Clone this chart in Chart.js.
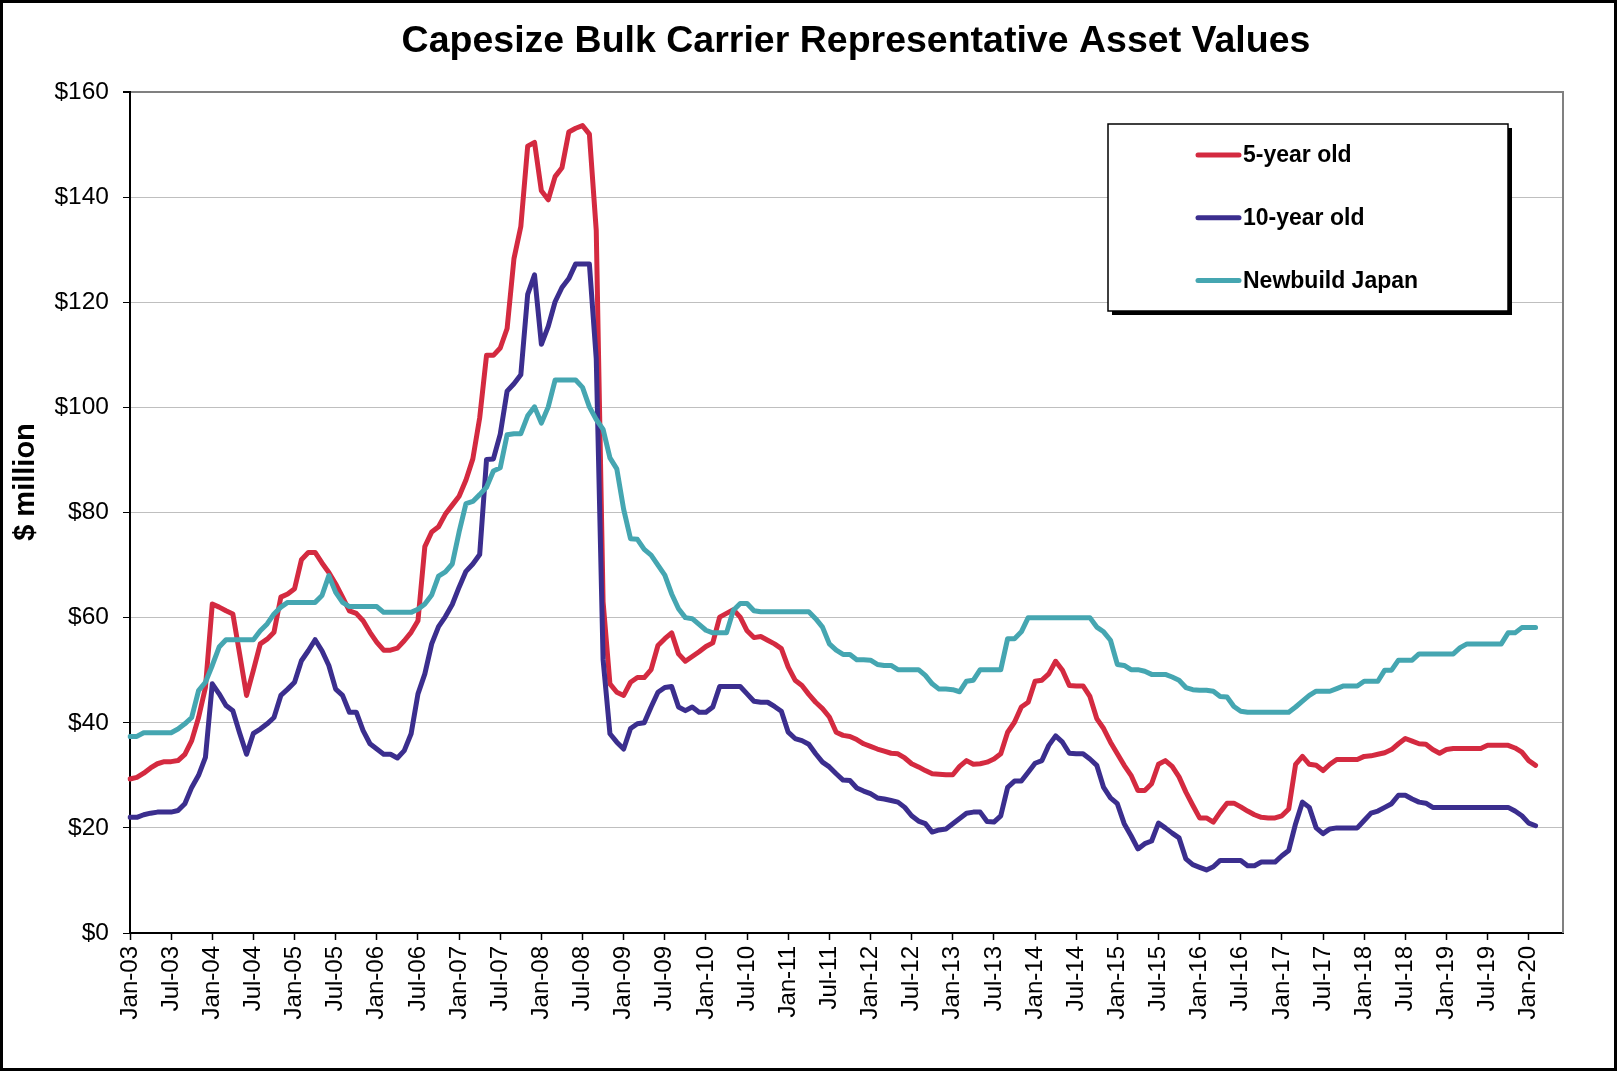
<!DOCTYPE html>
<html>
<head>
<meta charset="utf-8">
<script src="https://cdn.jsdelivr.net/npm/chart.js@4.4.1/dist/chart.umd.min.js"></script>
<style>
  html, body { margin: 0; padding: 0; background: #fff; }
  #wrap { position: relative; width: 1617px; height: 1071px; }
  #frame { position: absolute; left: 0; top: 0; width: 1617px; height: 1071px;
           box-sizing: border-box; border: 3px solid #000; pointer-events: none; }
</style>
</head>
<body>
<div id="wrap">
  <canvas id="chart" width="1617" height="1071"></canvas>
  <div id="frame"></div>
</div>
<script>
// monthly values, $ million, Jan-03 .. Feb-20 (one row per year)
const fiveYearOld = [
  29.3, 29.6, 30.4, 31.4, 32.2, 32.6, 32.6, 32.8, 34, 36.6, 41, 46.7,
  62.6, 62, 61.3, 60.7, 53, 45.2, 50, 55, 55.9, 57.2, 63.9, 64.5,
  65.5, 71, 72.4, 72.4, 70.4, 68.6, 66.4, 63.9, 61.3, 60.8, 59.4, 57.2,
  55.3, 53.8, 53.8, 54.2, 55.6, 57.2, 59.4, 73.5, 76.3, 77.3, 79.7, 81.4,
  83.1, 86.2, 90.2, 98, 109.9, 109.9, 111.3, 115, 128.3, 134.4, 149.7, 150.4,
  141.2, 139.5, 143.9, 145.6, 152.4, 153.1, 153.6, 152, 133.7, 63, 47.4, 45.8,
  45.2, 47.7, 48.6, 48.6, 50.1, 54.7, 56, 57.1, 53.1, 51.7, 52.6, 53.5,
  54.5, 55.2, 60.1, 60.8, 61.5, 60.1, 57.5, 56.2, 56.4, 55.7, 55, 54.1,
  50.6, 48.1, 47.1, 45.4, 43.9, 42.7, 41.1, 38.2, 37.6, 37.4, 36.8, 36,
  35.5, 35, 34.6, 34.2, 34.1, 33.3, 32.2, 31.6, 30.9, 30.3, 30.2, 30.1,
  30.1, 31.7, 32.8, 32.1, 32.2, 32.5, 33.1, 34.1, 38.2, 40.1, 43, 43.9,
  47.9, 48.1, 49.3, 51.7, 50, 47.1, 47, 47, 45, 40.8, 38.9, 36.3,
  34.1, 31.9, 30, 27.1, 27.1, 28.4, 32.1, 32.8, 31.7, 29.7, 26.8, 24.3,
  21.9, 21.9, 21.1, 23, 24.7, 24.7, 24, 23.2, 22.5, 22, 21.9, 21.9,
  22.3, 23.6, 32.1, 33.6, 32.1, 31.9, 30.9, 32.1, 33, 33, 33, 33,
  33.6, 33.7, 34, 34.3, 34.9, 36, 37, 36.5, 36, 35.9, 34.9, 34.2,
  34.9, 35.1, 35.1, 35.1, 35.1, 35.1, 35.7, 35.7, 35.7, 35.7, 35.2, 34.4,
  32.8, 31.9
];
const tenYearOld = [
  22, 22, 22.5, 22.8, 23, 23, 23, 23.3, 24.6, 27.7, 30, 33.4,
  47.4, 45.5, 43.3, 42.3, 38, 34, 38, 38.8, 39.8, 41, 45.2, 46.4,
  47.7, 51.8, 53.7, 55.8, 53.7, 50.9, 46.4, 45.2, 42, 42, 38.5, 36,
  35, 34, 34, 33.3, 34.7, 37.9, 45.5, 49.3, 55, 58.3, 60.2, 62.5,
  65.8, 68.8, 70.2, 72, 90.1, 90.2, 94.9, 103.1, 104.5, 106.2, 121.5, 125.2,
  112, 115.4, 120.1, 122.8, 124.5, 127.3, 127.3, 127.3, 109.3, 52, 37.9, 36.3,
  35, 38.9, 39.8, 40, 43, 45.8, 46.7, 46.9, 43, 42.3, 43, 42,
  42, 43, 46.9, 46.9, 46.9, 46.9, 45.5, 44.1, 43.9, 43.9, 43.1, 42.2,
  38.2, 37, 36.6, 35.9, 34.1, 32.5, 31.6, 30.3, 29.1, 29, 27.6, 27,
  26.5, 25.7, 25.5, 25.2, 24.9, 23.9, 22.3, 21.3, 20.8, 19.2, 19.6, 19.8,
  20.8, 21.8, 22.8, 23, 23, 21.2, 21.1, 22.3, 27.7, 28.9, 28.9, 30.6,
  32.3, 32.8, 35.7, 37.5, 36.3, 34.2, 34.1, 34.1, 33.1, 31.9, 27.7, 25.7,
  24.6, 20.8, 18.5, 16, 17, 17.5, 20.9, 20, 19, 18.1, 14.1, 13,
  12.5, 12, 12.6, 13.8, 13.8, 13.8, 13.8, 12.8, 12.8, 13.5, 13.5, 13.5,
  14.7, 15.7, 20.8, 24.9, 23.9, 20, 18.9, 19.8, 20, 20, 20, 20,
  21.4, 22.8, 23.2, 23.9, 24.6, 26.2, 26.2, 25.5, 24.9, 24.7, 23.9, 23.9,
  23.9, 23.9, 23.9, 23.9, 23.9, 23.9, 23.9, 23.9, 23.9, 23.9, 23.2, 22.3,
  20.9, 20.4
];
const newbuildJapan = [
  37.4, 37.4, 38.1, 38.1, 38.1, 38.1, 38.1, 38.8, 39.8, 41, 46.1, 47.7,
  50.9, 54.4, 55.8, 55.8, 55.8, 55.8, 55.8, 57.5, 58.8, 60.7, 62, 62.9,
  62.9, 62.9, 62.9, 62.9, 64.2, 68, 64.8, 62.9, 62.1, 62.1, 62.1, 62.1,
  62.1, 61, 61, 61, 61, 61, 61.6, 62.6, 64.3, 67.9, 68.7, 70.2,
  76.3, 81.7, 82.1, 83.4, 84.8, 87.9, 88.5, 94.8, 95, 95, 98.4, 100.1,
  97, 100.1, 105.2, 105.2, 105.2, 105.2, 103.8, 100.1, 97.7, 95.8, 90.4, 88.3,
  80.6, 75, 74.9, 73, 71.9, 70, 68.1, 64.5, 61.7, 60, 59.8, 58.7,
  57.6, 57.1, 57.1, 57.1, 61.4, 62.7, 62.7, 61.3, 61.1, 61.1, 61.1, 61.1,
  61.1, 61.1, 61.1, 61.1, 59.8, 58.2, 55, 53.8, 53, 53, 52, 52,
  51.9, 51.1, 50.9, 50.9, 50.1, 50.1, 50.1, 50.1, 49, 47.4, 46.4, 46.4,
  46.3, 45.9, 47.9, 48.1, 50.1, 50.1, 50.1, 50.1, 56, 56, 57.3, 60,
  60, 60, 60, 60, 60, 60, 60, 60, 60, 58.2, 57.3, 55.7,
  51.1, 50.9, 50.1, 50.1, 49.8, 49.2, 49.2, 49.2, 48.7, 48.1, 46.7, 46.3,
  46.2, 46.2, 46, 45, 44.9, 43.1, 42.2, 42, 42, 42, 42, 42,
  42, 42, 43, 44.1, 45.2, 46, 46, 46, 46.5, 47, 47, 47,
  47.9, 47.9, 47.9, 50, 50, 51.9, 51.9, 51.9, 53.1, 53.1, 53.1, 53.1,
  53.1, 53.1, 54.3, 55, 55, 55, 55, 55, 55, 57.1, 57.1, 58.1,
  58.1, 58.1
];

const seriesNames = ['5-year old', '10-year old', 'Newbuild Japan'];
const seriesColors = ['#D42A40', '#3B2E8E', '#45A6B1'];
const monthNames = ['Jan', 'Feb', 'Mar', 'Apr', 'May', 'Jun', 'Jul', 'Aug', 'Sep', 'Oct', 'Nov', 'Dec'];
const yTicks = [0, 20, 40, 60, 80, 100, 120, 140, 160];
const chartTitle = 'Capesize Bulk Carrier Representative Asset Values';
const yTitle = '$ million';

// axis runs Jan-03 .. Jun-20, data stops at Feb-20
const months = [];
for (let y = 2003; y <= 2020; y++) {
  for (let m = 0; m < 12; m++) {
    if (y === 2020 && m > 5) break;
    months.push(monthNames[m] + '-' + String(y % 100).padStart(2, '0'));
  }
}

const FONT = '"Liberation Sans", Arial, Helvetica, sans-serif';

const decor = {
  id: 'decor',
  afterDraw(chart) {
    const ctx = chart.ctx, a = chart.chartArea;
    ctx.save();
    // right frame line of plot
    ctx.strokeStyle = '#808080';
    ctx.lineWidth = 2;
    ctx.beginPath();
    ctx.moveTo(a.right, a.top - 1);
    ctx.lineTo(a.right, a.bottom);
    ctx.stroke();

    ctx.fillStyle = '#000';
    ctx.font = 'bold 37.5px ' + FONT;
    ctx.textAlign = 'center';
    ctx.textBaseline = 'middle';
    ctx.fillText(chartTitle, 856, 42);

    ctx.save();
    ctx.translate(26, 482);
    ctx.rotate(-Math.PI / 2);
    ctx.font = 'bold 29px ' + FONT;
    ctx.fillText(yTitle, 0, 0);
    ctx.restore();

    // legend box with shadow
    const bx = 1108, by = 124, bw = 400, bh = 187;
    ctx.fillStyle = '#000';
    ctx.fillRect(bx + 4, by + 4, bw, bh);
    ctx.fillStyle = '#fff';
    ctx.fillRect(bx, by, bw, bh);
    ctx.strokeStyle = '#000';
    ctx.lineWidth = 1.5;
    ctx.strokeRect(bx, by, bw, bh);
    ctx.font = 'bold 23px ' + FONT;
    ctx.textAlign = 'left';
    chart.data.datasets.forEach((ds, i) => {
      const ly = 155 + i * 62.8;
      ctx.strokeStyle = ds.borderColor;
      ctx.lineWidth = 5;
      ctx.lineCap = 'round';
      ctx.beginPath();
      ctx.moveTo(1198, ly);
      ctx.lineTo(1239, ly);
      ctx.stroke();
      ctx.fillStyle = '#000';
      ctx.fillText(ds.label, 1243, ly + 1);
    });
    ctx.restore();
  }
};

new Chart(document.getElementById('chart'), {
  type: 'line',
  data: {
    labels: months,
    datasets: [
      { label: seriesNames[0], data: fiveYearOld, borderColor: seriesColors[0], order: 2 },
      { label: seriesNames[1], data: tenYearOld, borderColor: seriesColors[1], order: 1 },
      { label: seriesNames[2], data: newbuildJapan, borderColor: seriesColors[2], order: 0 }
    ]
  },
  options: {
    responsive: false,
    animation: false,
    devicePixelRatio: 1,
    layout: { padding: { top: 92, right: 54, bottom: 0, left: 0 } },
    elements: {
      point: { radius: 0 },
      line: { tension: 0, borderWidth: 5, borderJoinStyle: 'round', borderCapStyle: 'round', fill: false }
    },
    plugins: {
      legend: { display: false },
      title: { display: false },
      tooltip: { enabled: false }
    },
    scales: {
      x: {
        type: 'category',
        offset: false,
        grid: {
          drawOnChartArea: false,
          drawTicks: true,
          tickLength: 7,
          tickWidth: 1.5,
          tickColor: c => (c.index % 6 === 0 ? '#000' : 'rgba(0,0,0,0)')
        },
        border: { color: '#000', width: 2 },
        ticks: {
          autoSkip: false,
          maxRotation: 90,
          minRotation: 90,
          padding: 6,
          color: '#000',
          font: { family: FONT, size: 24 },
          callback: (v, i) => (i % 6 === 0 ? months[i] : '')
        },
        afterFit: s => { s.height = 1071 - 933; }
      },
      y: {
        min: 0,
        max: 160,
        afterBuildTicks: s => { s.ticks = yTicks.map(v => ({ value: v })); },
        ticks: {
          padding: 14,
          color: '#000',
          font: { family: FONT, size: 24.5 },
          callback: v => '$' + v
        },
        grid: {
          color: c => (c.tick.value === 160 ? '#808080' : c.tick.value === 0 ? '#000' : '#BFBFBF'),
          lineWidth: c => (c.tick.value === 160 ? 2 : 1),
          tickLength: 7,
          tickColor: '#000'
        },
        border: { color: '#000', width: 2 },
        afterFit: s => { s.width = 130; }
      }
    }
  },
  plugins: [decor]
});
</script>
</body>
</html>
